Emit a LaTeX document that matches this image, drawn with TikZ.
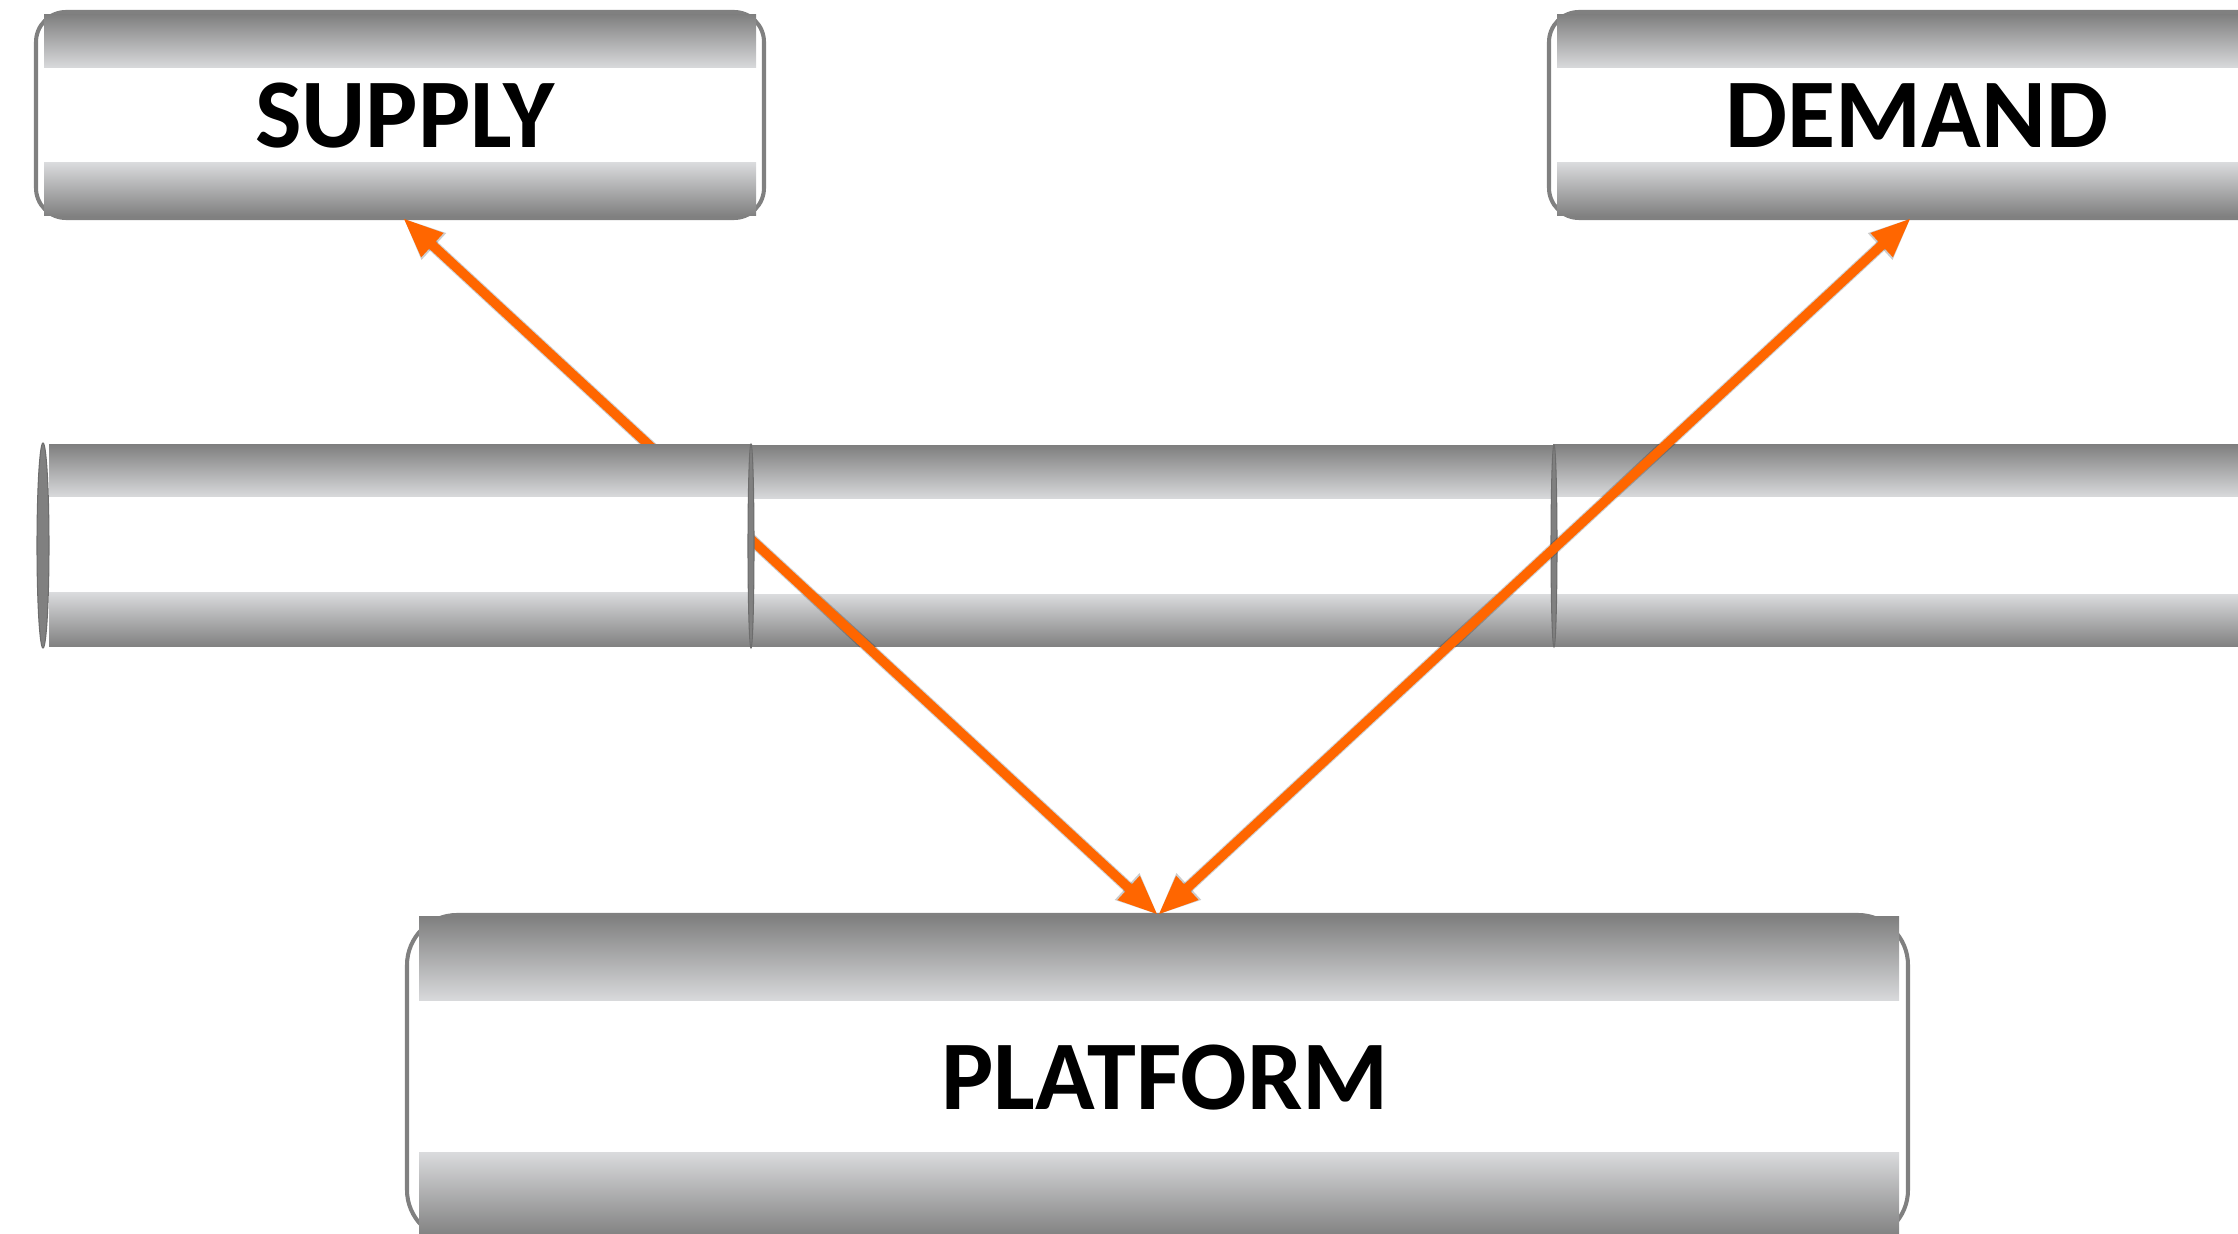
\documentclass[tikz,border=0pt]{standalone}
\usepackage{fontspec}
\setmainfont{Carlito}
\usetikzlibrary{arrows.meta}

\definecolor{tubedark}{RGB}{128,128,128}
\definecolor{tubelight}{RGB}{217,218,220}
\definecolor{linkorange}{RGB}{255,102,0}

\tikzset{
  bandtop/.style={top color=tubedark, bottom color=tubelight},
  bandbottom/.style={top color=tubelight, bottom color=tubedark},
  frame/.style={draw=tubedark, line width=1.15pt},
  rim/.style={fill=tubedark, draw=tubedark!85!black, line width=0.3pt},
  label/.style={font=\fontsize{28}{30}\selectfont\bfseries, anchor=base, inner sep=0pt},
  link/.style={draw=linkorange, line width=2.7pt,
    {Triangle[length=0.40cm,width=0.30cm]}-{Triangle[length=0.40cm,width=0.30cm]}},
  linkshadow/.style={draw=black, opacity=0.2, line width=3.3pt,
    {Triangle[length=0.42cm,width=0.33cm]}-{Triangle[length=0.42cm,width=0.33cm]}}
}

\begin{document}
\begin{tikzpicture}[x=0.01cm, y=-0.01cm]
\useasboundingbox (0,0) rectangle (2238,1234);
\clip (0,0) rectangle (2238,1234);

% ---- SUPPLY box ----
\draw[frame, rounded corners=0.3cm] (36,12) rectangle (764,218);
\fill[white] (44,15) rectangle (756,216);
\shade[bandtop] (44,15) rectangle (756,68);
\shade[bandbottom] (44,163) rectangle (756,216);
\node[label] (supply) at (405,148) {SUPPLY};

% ---- DEMAND box ----
\draw[frame, rounded corners=0.3cm] (1549,12) rectangle (2290,218);
\fill[white] (1557,15) rectangle (2290,216);
\shade[bandtop] (1557,15) rectangle (2290,68);
\shade[bandbottom] (1557,163) rectangle (2290,216);
\node[label] (demand) at (1917,148) {DEMAND};

% ---- PLATFORM box ----
\draw[frame, rounded corners=0.5cm] (407,915) rectangle (1908,1240);
\fill[white] (419,917) rectangle (1899,1240);
\shade[bandtop] (419,917) rectangle (1899,1001);
\shade[bandbottom] (419,1153) rectangle (1899,1237);
\node[label] (platform) at (1165,1110) {PLATFORM};

% ---- middle pipe: rear segments ----
\fill[white] (752,446) rectangle (1553,647);
\shade[bandtop] (752,446) rectangle (1553,499);
\shade[bandbottom] (752,595) rectangle (1553,647);
\fill[white] (1553,445) rectangle (2260,647);
\shade[bandtop] (1553,445) rectangle (2260,497);
\shade[bandbottom] (1553,595) rectangle (2260,647);
\draw[rim] (1554,546) ellipse [x radius=3, y radius=101];

% ---- connection points ----
\coordinate (supplyport) at (403,218);
\coordinate (demandport) at (1911,218);
\coordinate (platformport) at (1158,915);

% ---- links with soft shadow ----
\begin{scope}[shift={(3,4)}]
  \draw[linkshadow] (platformport) -- (supplyport);
  \draw[linkshadow] (platformport) -- (demandport);
\end{scope}
\draw[link] (platformport) -- (supplyport);
\draw[link] (platformport) -- (demandport);

% ---- middle pipe: front segment ----
\fill[white] (49,445) rectangle (752,647);
\shade[bandtop] (49,445) rectangle (752,497);
\shade[bandbottom] (49,593) rectangle (752,647);
\draw[rim] (43,545.5) ellipse [x radius=6, y radius=102.5];
\draw[rim] (751,546) ellipse [x radius=3, y radius=102];
\end{tikzpicture}
\end{document}
